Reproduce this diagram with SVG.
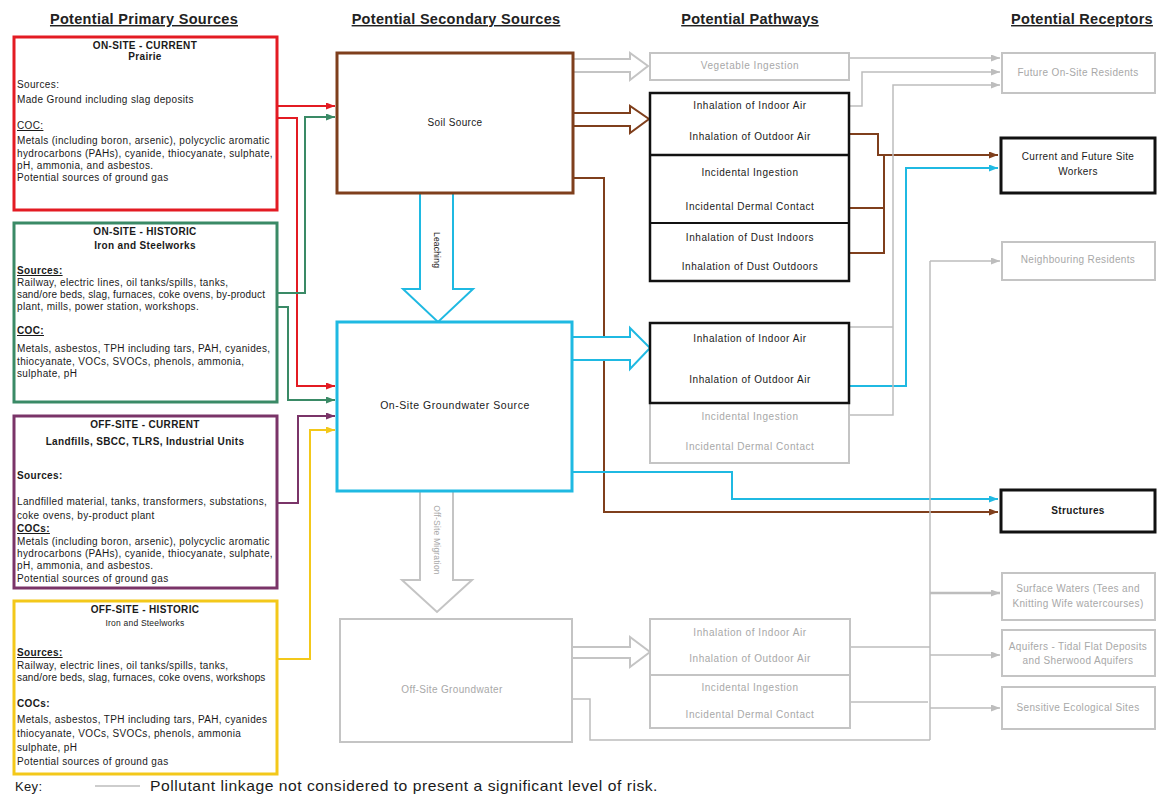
<svg xmlns="http://www.w3.org/2000/svg" width="1157" height="798" viewBox="0 0 1157 798">
<style>
text{font-family:"Liberation Sans",Arial,sans-serif;font-size:10px;letter-spacing:0.35px;fill:#1a1a1a}
.c{text-anchor:middle}
.b{font-weight:bold}
.u{text-decoration:underline}
.g{fill:#a8a8a8}
.p{letter-spacing:0.55px}
.n{letter-spacing:0.15px}
.s{font-size:8.5px;letter-spacing:0.2px}
.h{font-size:14.5px;letter-spacing:0.3px;font-weight:bold;text-decoration:underline;text-anchor:middle;fill:#222}
.box{fill:#fff}
.gbox{fill:#fff;stroke:#c4c4c4;stroke-width:2}
.kbox{fill:#fff;stroke:#111;stroke-width:2.5}
.ln{fill:none;stroke-width:2}
.red{stroke:#e31b23}.grn{stroke:#3a8a66}.pur{stroke:#7a3468}.yel{stroke:#f3c81a}
.brn{stroke:#7f3f1c}.cyn{stroke:#1fb9e2}.gry{stroke:#bdbdbd;stroke-width:1.5}
.hol{fill:#fff;stroke-width:2}
</style>
<defs>
<marker id="mr" markerUnits="userSpaceOnUse" markerWidth="9" markerHeight="7" refX="9" refY="3.5" orient="auto"><path d="M0,0L9,3.5L0,7z" fill="#e31b23"/></marker>
<marker id="mg" markerUnits="userSpaceOnUse" markerWidth="9" markerHeight="7" refX="9" refY="3.5" orient="auto"><path d="M0,0L9,3.5L0,7z" fill="#3a8a66"/></marker>
<marker id="mp" markerUnits="userSpaceOnUse" markerWidth="9" markerHeight="7" refX="9" refY="3.5" orient="auto"><path d="M0,0L9,3.5L0,7z" fill="#7a3468"/></marker>
<marker id="my" markerUnits="userSpaceOnUse" markerWidth="9" markerHeight="7" refX="9" refY="3.5" orient="auto"><path d="M0,0L9,3.5L0,7z" fill="#f3c81a"/></marker>
<marker id="mb" markerUnits="userSpaceOnUse" markerWidth="9" markerHeight="7" refX="9" refY="3.5" orient="auto"><path d="M0,0L9,3.5L0,7z" fill="#7f3f1c"/></marker>
<marker id="mc" markerUnits="userSpaceOnUse" markerWidth="9" markerHeight="7" refX="9" refY="3.5" orient="auto"><path d="M0,0L9,3.5L0,7z" fill="#1fb9e2"/></marker>
<marker id="mk" markerUnits="userSpaceOnUse" markerWidth="9" markerHeight="7" refX="9" refY="3.5" orient="auto"><path d="M0,0L9,3.5L0,7z" fill="#bdbdbd"/></marker>
</defs>
<rect width="1157" height="798" fill="#fff"/>

<g id="headers">
<text class="h" x="144" y="24">Potential Primary Sources</text>
<text class="h" x="456" y="24">Potential Secondary Sources</text>
<text class="h" x="750" y="24">Potential Pathways</text>
<text class="h" x="1082" y="24">Potential Receptors</text>
</g>

<g id="connectors">
<path class="ln red" d="M277,106H335" marker-end="url(#mr)"/>
<path class="ln red" d="M277,118H297V386H335" marker-end="url(#mr)"/>
<path class="ln grn" d="M277,293H305V117H335" marker-end="url(#mg)"/>
<path class="ln grn" d="M277,307H288V400H335" marker-end="url(#mg)"/>
<path class="ln pur" d="M277,503H298V416H335" marker-end="url(#mp)"/>
<path class="ln yel" d="M277,659H310V430H335" marker-end="url(#my)"/>
<path class="ln brn" d="M573,178H604V512H998" marker-end="url(#mb)"/>
<path class="ln brn" d="M849,134H878V155H998" marker-end="url(#mb)"/>
<path class="ln brn" d="M849,208H884M849,253H884V155"/>
<path class="ln cyn" d="M573,472H732V499H998" marker-end="url(#mc)"/>
<path class="ln cyn" d="M849,386H906V168H998" marker-end="url(#mc)"/>
<path class="ln gry" d="M849,58H1000" marker-end="url(#mk)"/>
<path class="ln gry" d="M849,106H862V72H1000" marker-end="url(#mk)"/>
<path class="ln gry" d="M849,415H893V85H1000" marker-end="url(#mk)"/>
<path class="ln gry" d="M849,327H893"/>
<path class="ln gry" d="M930,261H1000" marker-end="url(#mk)"/>
<path class="ln gry" d="M930,261V740M572,699H590V740H930M849,647H930M849,702H928"/>
<path class="ln gry" style="stroke-width:2.5" d="M930,593H1000" marker-end="url(#mk)"/>
<path class="ln gry" d="M930,655H1000" marker-end="url(#mk)"/>
<path class="ln gry" d="M930,708H1000" marker-end="url(#mk)"/>
<path class="hol" stroke="#c4c4c4" d="M573,59H630V53L648,66L630,80V72H573"/>
<path class="hol" stroke="#7f3f1c" d="M573,113H630V106L649,119L630,133V126H573"/>
<path class="hol" stroke="#1fb9e2" d="M573,337H630V328L650,348L630,369V360H573"/>
<path class="hol" stroke="#c4c4c4" d="M572,647H630V637L650,652L630,667V658H572"/>
<path class="hol" stroke="#1fb9e2" stroke-width="2.5" d="M420,193V289H403L438,322L473,289H453V193"/>
<path class="hol" stroke="#c4c4c4" stroke-width="2.5" d="M420,491V580H402L437,612L472,580H453V491"/>
<text class="c s" x="0" y="0" transform="translate(434,250) rotate(90)">Leaching</text>
<text class="c g s" x="0" y="0" transform="translate(434,540) rotate(90)">Off-Site Migration</text>
</g>

<g id="src-onsite-current">
<rect class="box" x="14" y="37" width="263" height="173" stroke="#e31b23" stroke-width="3"/>
<text class="c b" x="145" y="49">ON-SITE - CURRENT</text>
<text class="c b" x="145" y="60">Prairie</text>
<text x="17" y="88">Sources:</text>
<text x="17" y="103">Made Ground including slag deposits</text>
<text class="u" x="17" y="129">COC:</text>
<text x="17" y="144">Metals (including boron, arsenic), polycyclic aromatic</text>
<text x="17" y="157">hydrocarbons (PAHs), cyanide, thiocyanate, sulphate,</text>
<text x="17" y="169">pH, ammonia, and asbestos.</text>
<text x="17" y="181">Potential sources of ground gas</text>
</g>

<g id="src-onsite-historic">
<rect class="box" x="14" y="223" width="263" height="179" stroke="#3a8a66" stroke-width="3"/>
<text class="c b" x="145" y="235">ON-SITE - HISTORIC</text>
<text class="c b" x="145" y="249">Iron and Steelworks</text>
<text class="u b" x="17" y="274">Sources:</text>
<text x="17" y="286">Railway, electric lines, oil tanks/spills, tanks,</text>
<text class="n" x="17" y="298">sand/ore beds, slag, furnaces, coke ovens, by-product</text>
<text x="17" y="310">plant, mills, power station, workshops.</text>
<text class="u b" x="17" y="334">COC:</text>
<text x="17" y="352">Metals, asbestos, TPH including tars, PAH, cyanides,</text>
<text x="17" y="365">thiocyanate, VOCs, SVOCs, phenols, ammonia,</text>
<text x="17" y="377">sulphate, pH</text>
</g>

<g id="src-offsite-current">
<rect class="box" x="14" y="416" width="263" height="172" stroke="#7a3468" stroke-width="3"/>
<text class="c b" x="145" y="428">OFF-SITE - CURRENT</text>
<text class="c b" x="145" y="445">Landfills, SBCC, TLRS, Industrial Units</text>
<text class="b" x="17" y="479">Sources:</text>
<text x="17" y="505">Landfilled material, tanks, transformers, substations,</text>
<text x="17" y="519">coke ovens, by-product plant</text>
<text class="u b" x="17" y="532">COCs:</text>
<text x="17" y="545">Metals (including boron, arsenic), polycyclic aromatic</text>
<text x="17" y="557">hydrocarbons (PAHs), cyanide, thiocyanate, sulphate,</text>
<text x="17" y="569">pH, ammonia, and asbestos.</text>
<text x="17" y="582">Potential sources of ground gas</text>
</g>

<g id="src-offsite-historic">
<rect class="box" x="14" y="601" width="263" height="173" stroke="#f3c81a" stroke-width="3"/>
<text class="c b" x="145" y="613">OFF-SITE - HISTORIC</text>
<text class="c s" x="145" y="626">Iron and Steelworks</text>
<text class="u b" x="17" y="656">Sources:</text>
<text x="17" y="669">Railway, electric lines, oil tanks/spills, tanks,</text>
<text class="n" x="17" y="681">sand/ore beds, slag, furnaces, coke ovens, workshops</text>
<text class="b" x="17" y="707">COCs:</text>
<text x="17" y="723">Metals, asbestos, TPH including tars, PAH, cyanides</text>
<text x="17" y="737">thiocyanate, VOCs, SVOCs, phenols, ammonia</text>
<text x="17" y="751">sulphate, pH</text>
<text x="17" y="765">Potential sources of ground gas</text>
</g>

<g id="soil-source">
<rect class="box" x="337" y="53" width="236" height="140" stroke="#7f3f1c" stroke-width="3"/>
<text class="c" x="455" y="126">Soil Source</text>
</g>

<g id="gw-onsite">
<rect class="box" x="337" y="322" width="235" height="169" stroke="#1fb9e2" stroke-width="3"/>
<text class="c p" x="455" y="409" style="font-size:10.5px">On-Site Groundwater Source</text>
</g>

<g id="gw-offsite">
<rect class="gbox" x="340" y="619" width="232" height="123" stroke-width="2.5"/>
<text class="c g" x="452" y="693">Off-Site Groundwater</text>
</g>

<g id="path-veg">
<rect class="gbox" x="650" y="53" width="199" height="27"/>
<text class="c g p" x="750" y="69">Vegetable Ingestion</text>
</g>

<g id="path-soil">
<rect class="kbox" x="650" y="93" width="199" height="188"/>
<line x1="650" y1="155" x2="849" y2="155" stroke="#111" stroke-width="2.5"/>
<line x1="650" y1="223" x2="849" y2="223" stroke="#111" stroke-width="2"/>
<text class="c p" x="750" y="109">Inhalation of Indoor Air</text>
<text class="c p" x="750" y="140">Inhalation of Outdoor Air</text>
<text class="c p" x="750" y="176">Incidental Ingestion</text>
<text class="c p" x="750" y="210">Incidental Dermal Contact</text>
<text class="c p" x="750" y="241">Inhalation of Dust Indoors</text>
<text class="c p" x="750" y="270">Inhalation of Dust Outdoors</text>
</g>

<g id="path-gw-onsite">
<rect class="gbox" x="650" y="403" width="199" height="60"/>
<text class="c g p" x="750" y="420">Incidental Ingestion</text>
<text class="c g p" x="750" y="450">Incidental Dermal Contact</text>
<rect class="kbox" x="650" y="323" width="199" height="80"/>
<text class="c p" x="750" y="342">Inhalation of Indoor Air</text>
<text class="c p" x="750" y="383">Inhalation of Outdoor Air</text>
</g>

<g id="path-gw-offsite">
<rect class="gbox" x="650" y="619" width="200" height="109"/>
<line x1="650" y1="675" x2="850" y2="675" stroke="#c4c4c4" stroke-width="2"/>
<text class="c g p" x="750" y="636">Inhalation of Indoor Air</text>
<text class="c g p" x="750" y="662">Inhalation of Outdoor Air</text>
<text class="c g p" x="750" y="691">Incidental Ingestion</text>
<text class="c g p" x="750" y="718">Incidental Dermal Contact</text>
</g>

<g id="rec-future-residents">
<rect class="gbox" x="1002" y="53" width="153" height="40"/>
<text class="c g" x="1078" y="76">Future On-Site Residents</text>
</g>
<g id="rec-workers">
<rect class="box" x="1001" y="138" width="154" height="55" stroke="#111" stroke-width="3"/>
<text class="c" x="1078" y="160">Current and Future Site</text>
<text class="c" x="1078" y="175">Workers</text>
</g>
<g id="rec-neighbours">
<rect class="gbox" x="1002" y="242" width="153" height="38"/>
<text class="c g" x="1078" y="263">Neighbouring Residents</text>
</g>
<g id="rec-structures">
<rect class="box" x="1001" y="490" width="154" height="42" stroke="#111" stroke-width="3"/>
<text class="c b" x="1078" y="514">Structures</text>
</g>
<g id="rec-surface-waters">
<rect class="gbox" x="1002" y="573" width="153" height="47"/>
<text class="c g" x="1078" y="592">Surface Waters (Tees and</text>
<text class="c g" x="1078" y="607">Knitting Wife watercourses)</text>
</g>
<g id="rec-aquifers">
<rect class="gbox" x="1002" y="630" width="153" height="46"/>
<text class="c g" x="1078" y="650">Aquifers - Tidal Flat Deposits</text>
<text class="c g" x="1078" y="664">and Sherwood Aquifers</text>
</g>
<g id="rec-ecological">
<rect class="gbox" x="1002" y="687" width="153" height="42"/>
<text class="c g" x="1078" y="711">Sensitive Ecological Sites</text>
</g>

<g id="key">
<text x="15" y="791" style="font-size:13px">Key:</text>
<line x1="95" y1="786" x2="140" y2="786" stroke="#bdbdbd" stroke-width="1.5"/>
<text x="150" y="791" style="font-size:15px;letter-spacing:0.5px" textLength="508" lengthAdjust="spacingAndGlyphs">Pollutant linkage not considered to present a significant level of risk.</text>
</g>
</svg>
